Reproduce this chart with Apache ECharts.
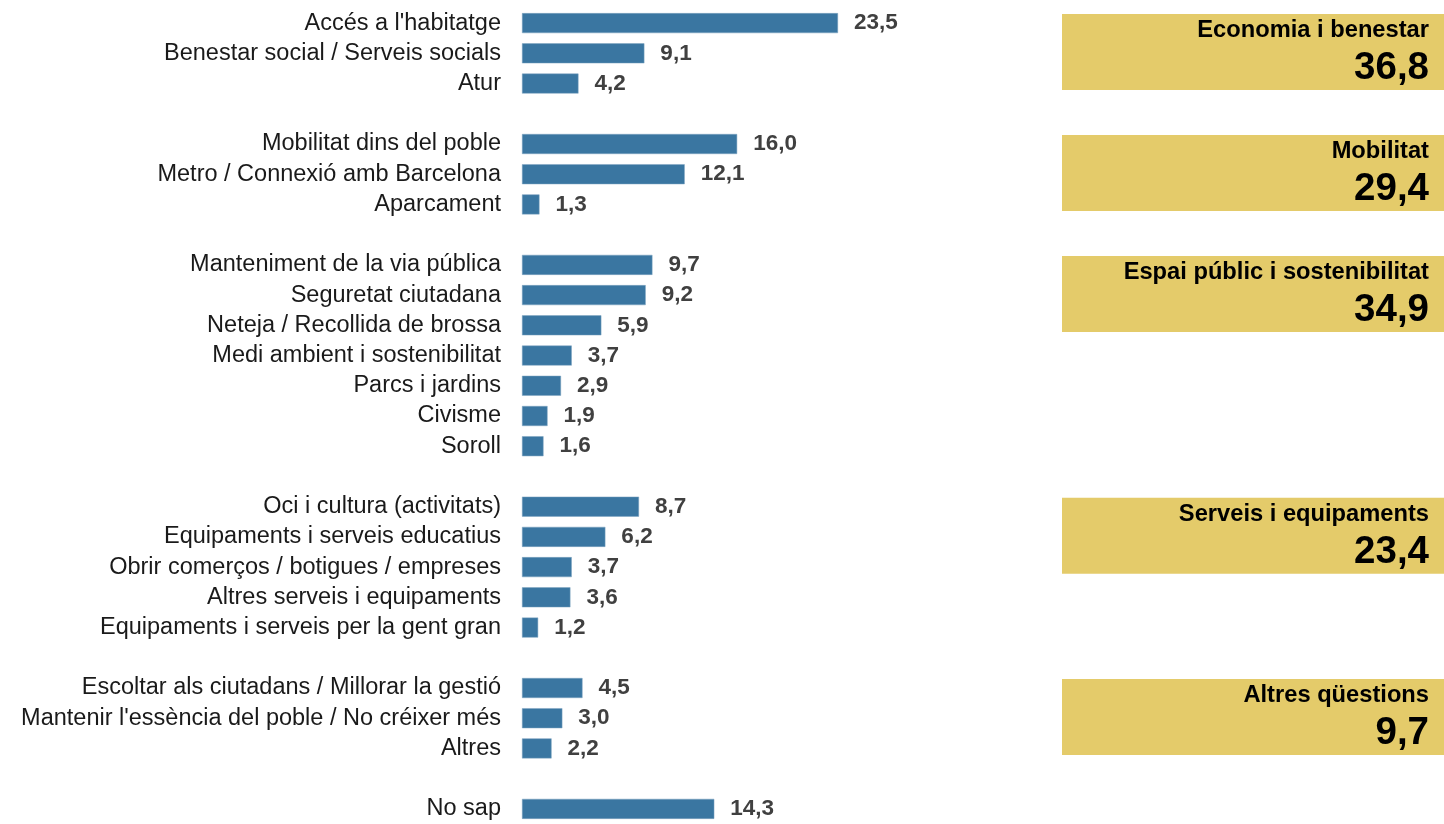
<!DOCTYPE html>
<html lang="ca" style="height: 100%">
<head>
  <meta charset="utf-8">
</head>
<body style="height: 100%; margin: 0; background: #fff">
  <div id="container" style="height: 100%"></div>

  <script type="text/javascript" src="https://cdn.jsdelivr.net/npm/echarts@6/dist/echarts.min.js"></script>

  <script type="text/javascript">
    // categories, '_' entries are the blank spacer rows
    var categories = [
      "Accés a l'habitatge", 'Benestar social / Serveis socials', 'Atur', '_1',
      'Mobilitat dins del poble', 'Metro / Connexió amb Barcelona', 'Aparcament', '_2',
      'Manteniment de la via pública', 'Seguretat ciutadana', 'Neteja / Recollida de brossa',
      'Medi ambient i sostenibilitat', 'Parcs i jardins', 'Civisme', 'Soroll', '_3',
      'Oci i cultura (activitats)', 'Equipaments i serveis educatius', 'Obrir comerços / botigues / empreses',
      'Altres serveis i equipaments', 'Equipaments i serveis per la gent gran', '_4',
      'Escoltar als ciutadans / Millorar la gestió', "Mantenir l'essència del poble / No créixer més", 'Altres', '_5',
      'No sap'
    ];
    var values = [
      23.5, 9.1, 4.2, null,
      16.0, 12.1, 1.3, null,
      9.7, 9.2, 5.9, 3.7, 2.9, 1.9, 1.6, null,
      8.7, 6.2, 3.7, 3.6, 1.2, null,
      4.5, 3.0, 2.2, null,
      14.3
    ];
    // summary boxes on the right
    var groupNames = ['Economia i benestar', 'Mobilitat', 'Espai públic i sostenibilitat', 'Serveis i equipaments', 'Altres qüestions'];
    var groupTotals = [36.8, 29.4, 34.9, 23.4, 9.7];
    var groupFirstRow = ["Accés a l'habitatge", 'Mobilitat dins del poble', 'Manteniment de la via pública', 'Oci i cultura (activitats)', 'Escoltar als ciutadans / Millorar la gestió'];

    var FONT = '"Liberation Sans", Arial, Helvetica, sans-serif';
    function fmt(v) { return v.toFixed(1).replace('.', ','); }

    var dom = document.getElementById('container');
    var myChart = echarts.init(dom, null, { renderer: 'canvas' });

    var option = {
      animation: false,
      grid: { left: 522, top: 8, width: 403.4, height: 818 },
      xAxis: {
        type: 'value', min: 0, max: 30, show: false
      },
      yAxis: {
        type: 'category',
        inverse: true,
        data: categories,
        axisLine: { show: false },
        axisTick: { show: false },
        axisLabel: {
          interval: 0,
          hideOverlap: false,
          margin: 21,
          fontFamily: FONT,
          fontSize: 23.5,
          color: '#1a1a1a',
          formatter: function (v) { return v.charAt(0) === '_' ? '' : v; }
        }
      },
      series: [{
        type: 'bar',
        data: values,
        barWidth: 20,
        itemStyle: { color: '#3a76a1', borderColor: '#7fa5c1', borderWidth: 0.5 },
        label: {
          show: true,
          position: 'right',
          distance: 16,
          fontFamily: FONT,
          fontWeight: 'bold',
          fontSize: 22.5,
          color: '#404040',
          formatter: function (p) { return fmt(p.value); }
        }
      }]
    };
    myChart.setOption(option);

    // boxes anchored to the first row of each group
    var boxes = groupNames.map(function (name, i) {
      var cy = myChart.convertToPixel({ yAxisIndex: 0 }, groupFirstRow[i]);
      var top = cy - 9;
      return {
        type: 'group',
        children: [
          { type: 'rect', shape: { x: 1062, y: top, width: 382, height: 76 }, style: { fill: '#e4cb6a' } },
          {
            type: 'text', x: 1429, y: top + 16.5,
            style: { text: name, fill: '#000', font: 'bold 23.7px ' + FONT, align: 'right', verticalAlign: 'middle' }
          },
          {
            type: 'text', x: 1429, y: top + 54.5,
            style: { text: fmt(groupTotals[i]), fill: '#000', font: 'bold 38.5px ' + FONT, align: 'right', verticalAlign: 'middle' }
          }
        ]
      };
    });
    myChart.setOption({ graphic: boxes });

    window.addEventListener('resize', myChart.resize);
  </script>
</body>
</html>
